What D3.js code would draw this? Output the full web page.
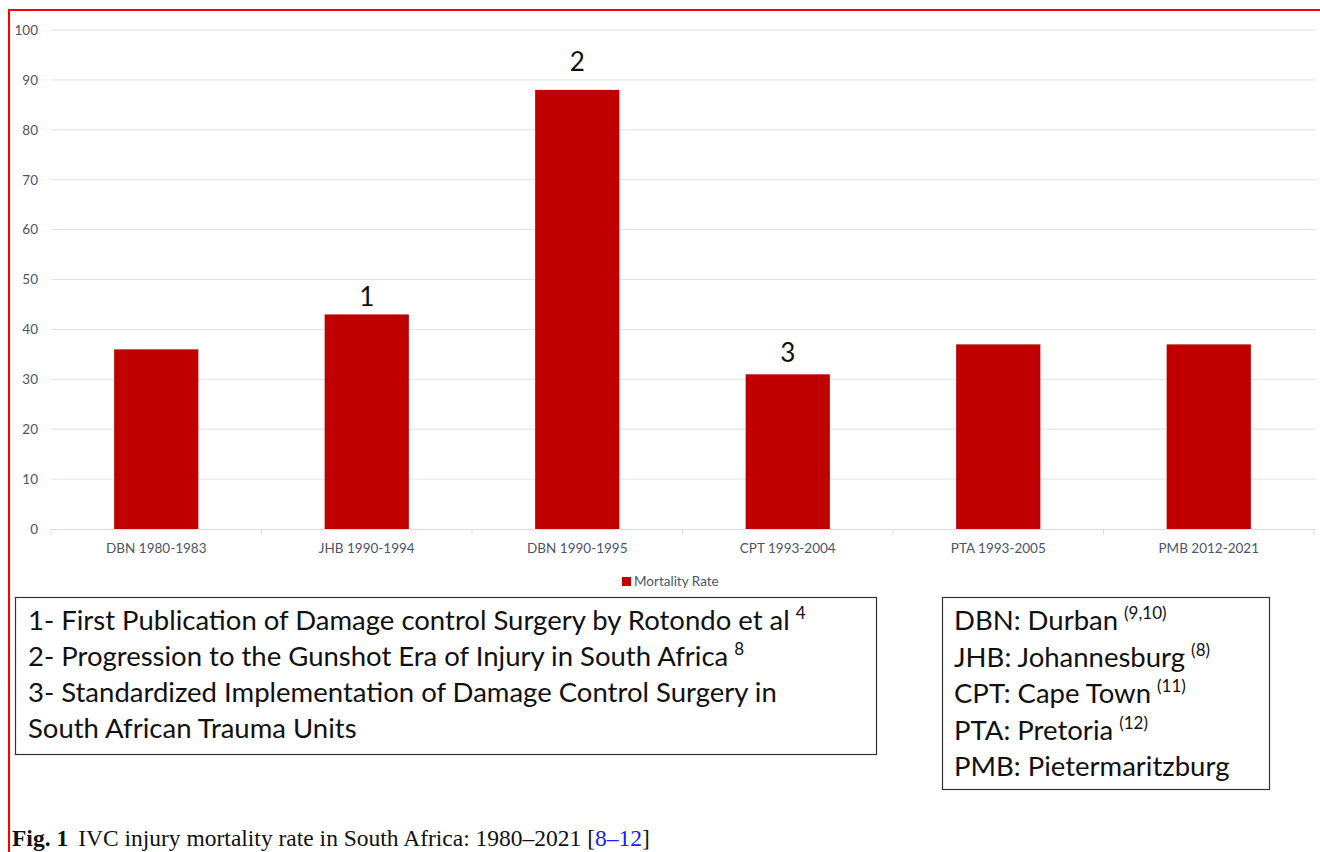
<!DOCTYPE html>
<html lang="en">
<head>
<meta charset="UTF-8">
<title>IVC injury mortality rate</title>
<script src="https://d3js.org/d3.v7.min.js"></script>
<style>
    body { margin: 0; background: #fff; }
    svg { display: block; }
    .tick text { font-family: Lato, "Open Sans", sans-serif; fill: #4b5567; }
</style>
</head>
<body>
<svg width="1320" height="852"></svg>
<script>
    // data
    const categories = ["DBN 1980-1983", "JHB 1990-1994", "DBN 1990-1995", "CPT 1993-2004", "PTA 1993-2005", "PMB 2012-2021"];
    const mortality = [36, 43, 88, 31, 37, 37];
    const markers = ["", "1", "2", "3", "", ""];
    const yTicks = [0, 10, 20, 30, 40, 50, 60, 70, 80, 90, 100];
    const notes = [
        "1- First Publication of Damage control Surgery by Rotondo et al",
        "2- Progression to the Gunshot Era of Injury in South Africa",
        "3- Standardized Implementation of Damage Control Surgery in",
        "South African Trauma Units"
    ];
    const noteRefs = ["4", "8", "", ""];
    const cities = ["DBN: Durban", "JHB: Johannesburg", "CPT: Cape Town", "PTA: Pretoria", "PMB: Pietermaritzburg"];
    const cityRefs = ["(9,10)", "(8)", "(11)", "(12)", ""];

    const svg = d3.select("svg");
    const red = "#c00000";
    const font = "Lato, 'Open Sans', sans-serif";

    // page frame
    svg.append("line").attr("x1", 9).attr("x2", 9).attr("y1", 9).attr("y2", 852)
        .attr("stroke", "#ff0000").attr("stroke-width", 2);
    svg.append("line").attr("x1", 8).attr("x2", 1320).attr("y1", 10).attr("y2", 10)
        .attr("stroke", "#ff0000").attr("stroke-width", 2);

    const x = d3.scaleBand().domain(categories).range([51, 1314]).paddingInner(0.6).paddingOuter(0.3);
    const y = d3.scaleLinear().domain([0, 100]).range([529, 30]);

    // grid
    svg.append("g").selectAll("line").data(yTicks.slice(1)).join("line")
        .attr("x1", 51).attr("x2", 1316)
        .attr("y1", d => y(d)).attr("y2", d => y(d))
        .attr("stroke", "#dde3ea").attr("stroke-width", 1);

    // y axis labels
    const yAxis = svg.append("g").attr("transform", "translate(44,0)")
        .call(d3.axisLeft(y).tickValues(yTicks).tickSize(0).tickPadding(6));
    yAxis.select(".domain").remove();
    yAxis.selectAll("text").attr("font-size", 13.5);

    // x axis
    const xBand = d3.scaleBand().domain(categories).range([51, 1314]);
    const xAxis = svg.append("g").attr("transform", "translate(0,529)")
        .call(d3.axisBottom(x).tickSize(0).tickPadding(14));
    xAxis.select(".domain").remove();
    xAxis.selectAll("text").attr("font-size", 13.5);
    svg.append("line").attr("x1", 51).attr("x2", 1316).attr("y1", 529.5).attr("y2", 529.5)
        .attr("stroke", "#d9dee6");
    svg.append("g").selectAll("line").data(categories.concat([null])).join("line")
        .attr("x1", (d, i) => i < categories.length ? xBand(d) : 1314)
        .attr("x2", (d, i) => i < categories.length ? xBand(d) : 1314)
        .attr("y1", 529).attr("y2", 535).attr("stroke", "#d9dee6");

    // bars
    svg.append("g").selectAll("rect").data(mortality).join("rect")
        .attr("x", (d, i) => x(categories[i]))
        .attr("y", d => y(d))
        .attr("width", x.bandwidth())
        .attr("height", d => y(0) - y(d))
        .attr("fill", red);

    // number markers above bars
    const markerGap = [0, 4, 15, 8, 0, 0];
    svg.append("g").selectAll("text").data(mortality).join("text")
        .attr("x", (d, i) => x(categories[i]) + x.bandwidth() / 2)
        .attr("y", (d, i) => y(d) - 4 - markerGap[i])
        .attr("text-anchor", "middle")
        .attr("font-family", font)
        .attr("font-size", 26).attr("fill", "#111")
        .text((d, i) => markers[i]);

    // legend
    svg.append("rect").attr("x", 622).attr("y", 577).attr("width", 9).attr("height", 9).attr("fill", red);
    svg.append("text").attr("x", 634).attr("y", 586)
        .attr("font-family", font).attr("font-size", 13.5)
        .attr("fill", "#4b5567").text("Mortality Rate");

    // notes box
    svg.append("rect").attr("x", 15.5).attr("y", 597.5).attr("width", 861).attr("height", 157)
        .attr("fill", "none").attr("stroke", "#333").attr("stroke-width", 1.2);
    const noteText = svg.append("g").selectAll("text").data(notes).join("text")
        .attr("x", 28).attr("y", (d, i) => 630 + i * 36)
        .attr("font-family", font).attr("font-size", 27.5).attr("fill", "#111");
    noteText.append("tspan").text(d => d);
    noteText.append("tspan").attr("dx", 6).attr("dy", -11).attr("font-size", 17).text((d, i) => noteRefs[i]);

    // city box
    svg.append("rect").attr("x", 942.5).attr("y", 597.5).attr("width", 327).attr("height", 192)
        .attr("fill", "none").attr("stroke", "#333").attr("stroke-width", 1.2);
    const cityText = svg.append("g").selectAll("text").data(cities).join("text")
        .attr("x", 954).attr("y", (d, i) => 630 + i * 36.5)
        .attr("font-family", font).attr("font-size", 27.5).attr("fill", "#111");
    cityText.append("tspan").text(d => d);
    cityText.append("tspan").attr("dx", 6).attr("dy", -11).attr("font-size", 17).text((d, i) => cityRefs[i]);

    // caption
    const cap = svg.append("text").attr("x", 12).attr("y", 846)
        .attr("font-family", "'Liberation Serif', 'Times New Roman', serif").attr("font-size", 23.5).attr("fill", "#111");
    cap.append("tspan").attr("font-weight", "bold").text("Fig. 1");
    cap.append("tspan").attr("dx", 10).text("IVC injury mortality rate in South Africa: 1980\u20132021 [");
    cap.append("tspan").attr("fill", "#1a1aff").text("8\u201312");
    cap.append("tspan").text("]");
</script>
</body>
</html>
